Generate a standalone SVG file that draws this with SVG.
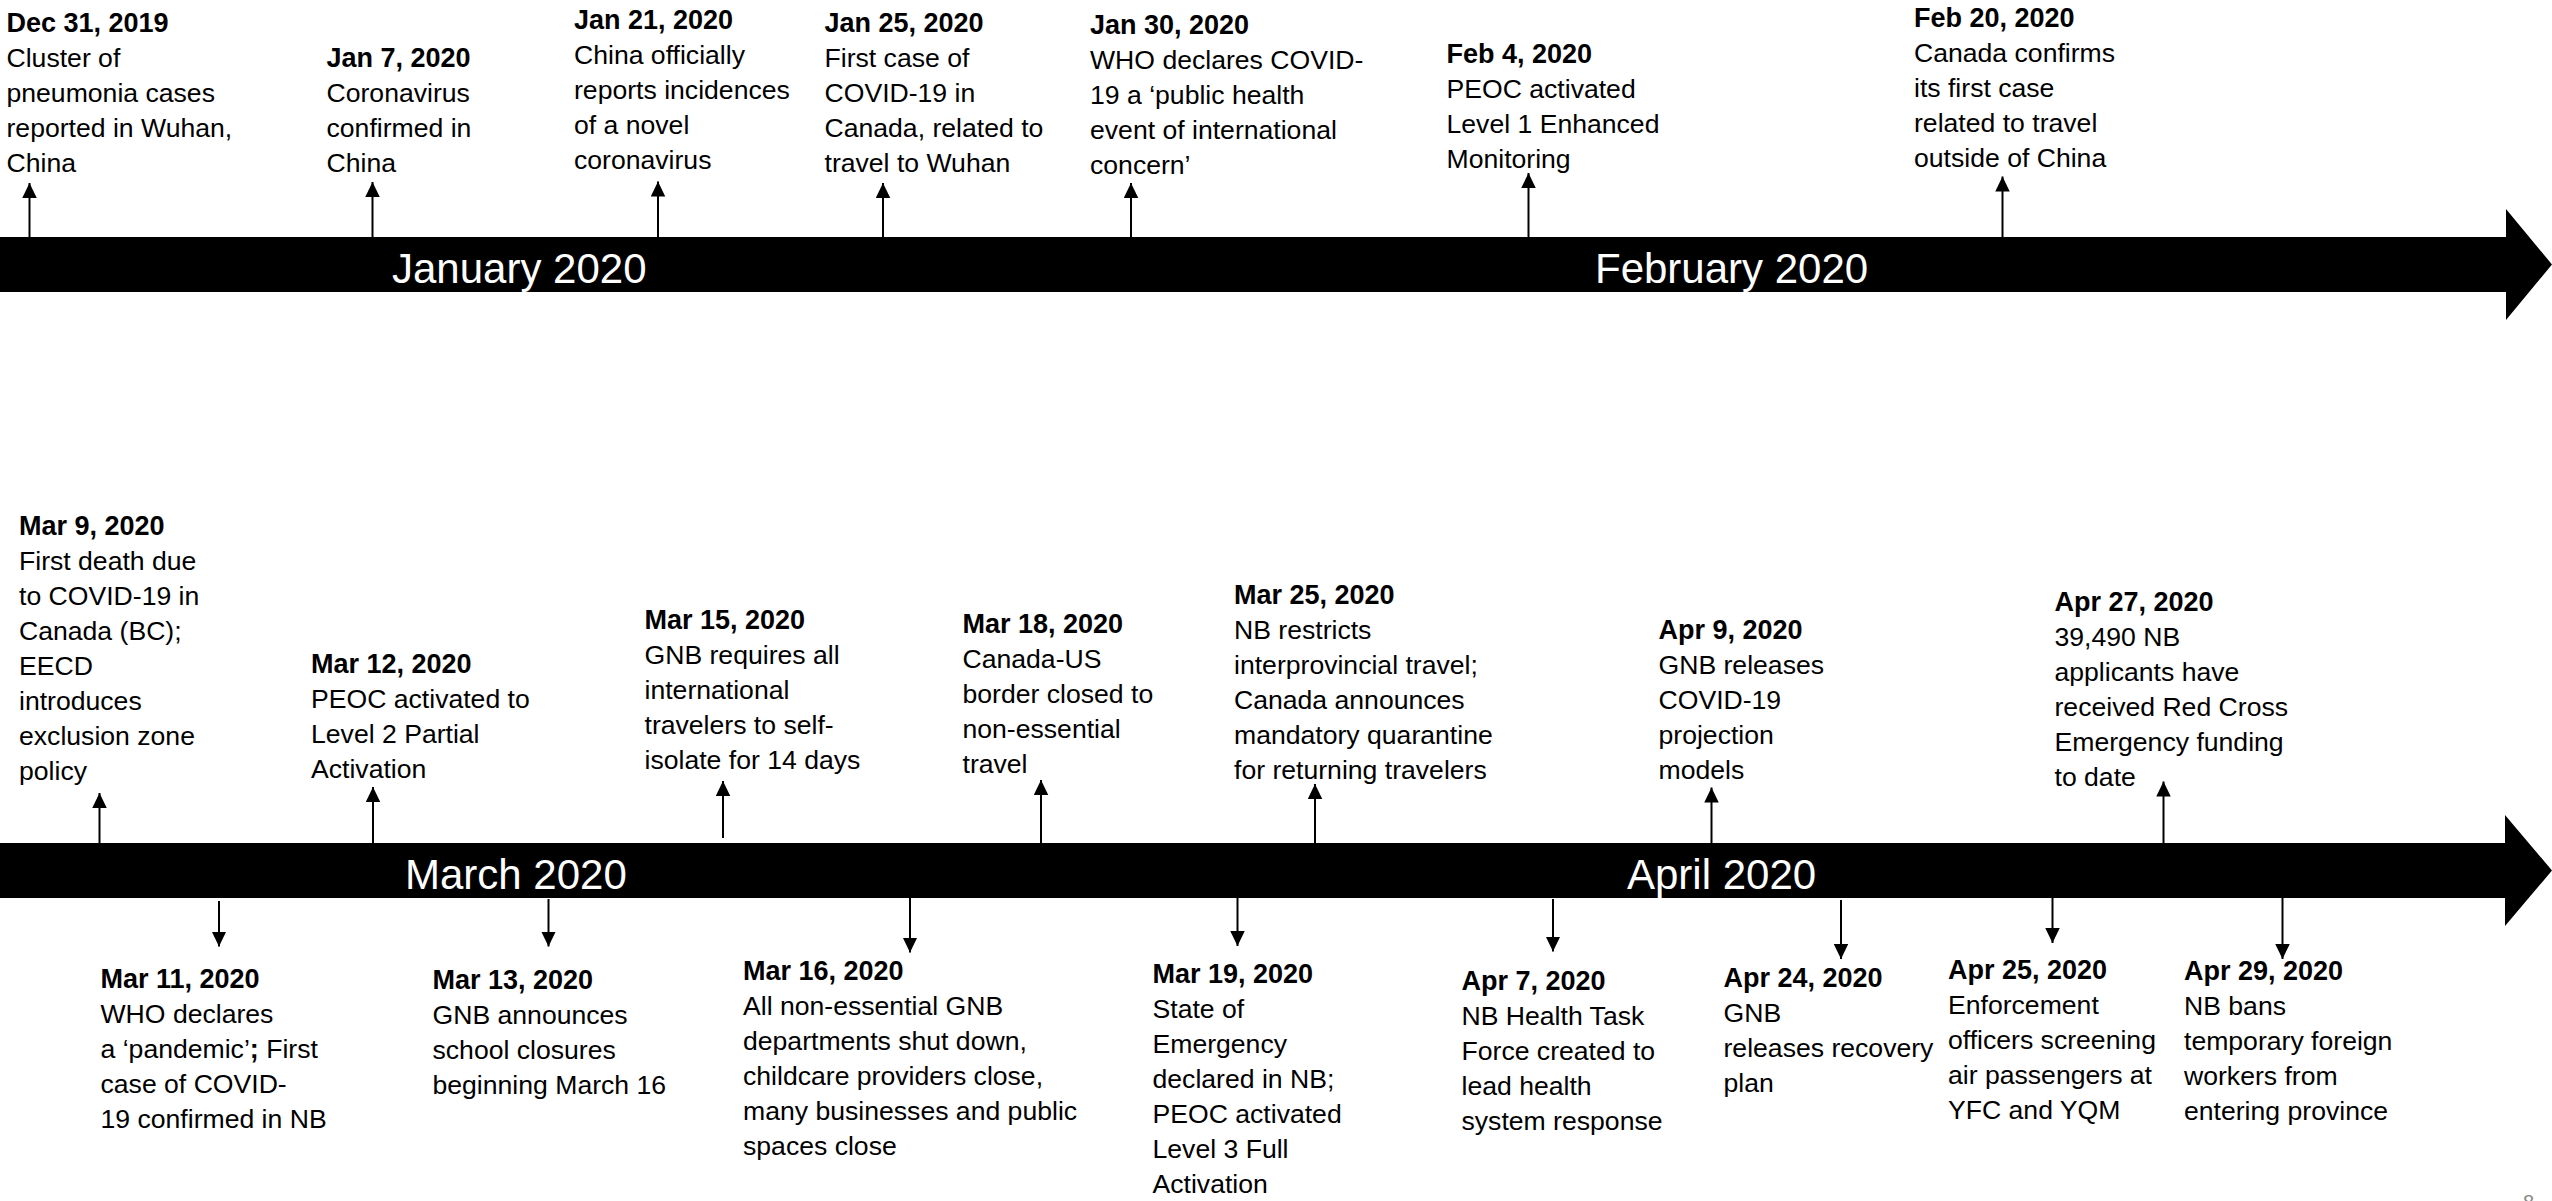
<svg xmlns="http://www.w3.org/2000/svg" width="2552" height="1201" viewBox="0 0 2552 1201">
<style>
.t{font-family:"Liberation Sans",Arial,sans-serif;font-size:26.6px;fill:#000}
.b{font-weight:bold;font-size:27px}
.m{font-family:"Liberation Sans",Arial,sans-serif;font-size:42px;fill:#fff}
.c{stroke:#000;stroke-width:2;fill:none;marker-end:url(#ah)}
</style>
<defs>
<marker id="ah" markerUnits="userSpaceOnUse" markerWidth="16" markerHeight="15" refX="15" refY="7.25" orient="auto">
<path d="M0,0 L15,7.25 L0,14.5 Z" fill="#000"/>
</marker>
</defs>
<rect width="2552" height="1201" fill="#fff"/>
<g id="timeline-top">
<path d="M0,237 L2506,237 L2506,209 L2552,264.5 L2506,320 L2506,292 L0,292 Z" fill="#000"/>
<text class="m" x="392" y="283">January 2020</text>
<text class="m" x="1595" y="283">February 2020</text>
</g>
<g id="timeline-bottom">
<path d="M0,843 L2505,843 L2505,815 L2552,870.5 L2505,926 L2505,898 L0,898 Z" fill="#000"/>
<text class="m" x="405" y="889">March 2020</text>
<text class="m" x="1627" y="889">April 2020</text>
</g>
<g id="connectors">
<line class="c" x1="29.5" y1="237" x2="29.5" y2="183"/>
<line class="c" x1="372.5" y1="237" x2="372.5" y2="182"/>
<line class="c" x1="658" y1="237" x2="658" y2="181.5"/>
<line class="c" x1="883" y1="237" x2="883" y2="183"/>
<line class="c" x1="1131" y1="237" x2="1131" y2="183"/>
<line class="c" x1="1528.5" y1="237" x2="1528.5" y2="173"/>
<line class="c" x1="2002.5" y1="237" x2="2002.5" y2="176.5"/>
<line class="c" x1="99.5" y1="843" x2="99.5" y2="793"/>
<line class="c" x1="373" y1="843" x2="373" y2="787"/>
<line class="c" x1="723" y1="838" x2="723" y2="781"/>
<line class="c" x1="1041" y1="843" x2="1041" y2="780"/>
<line class="c" x1="1315" y1="843" x2="1315" y2="784"/>
<line class="c" x1="1711.5" y1="843" x2="1711.5" y2="787.5"/>
<line class="c" x1="2163.5" y1="843" x2="2163.5" y2="781.5"/>
<line class="c" x1="219" y1="901" x2="219" y2="946.5"/>
<line class="c" x1="548.5" y1="899" x2="548.5" y2="946.5"/>
<line class="c" x1="910" y1="898" x2="910" y2="952.5"/>
<line class="c" x1="1237.5" y1="898" x2="1237.5" y2="946"/>
<line class="c" x1="1553" y1="899" x2="1553" y2="951.5"/>
<line class="c" x1="1841" y1="900" x2="1841" y2="959"/>
<line class="c" x1="2052.5" y1="898" x2="2052.5" y2="943"/>
<line class="c" x1="2282.5" y1="898" x2="2282.5" y2="959"/>
</g>
<g id="dec31"><text class="t" x="6.5" y="32"><tspan class="b" x="6.5">Dec 31, 2019</tspan><tspan x="6.5" dy="35">Cluster of</tspan><tspan x="6.5" dy="35">pneumonia cases</tspan><tspan x="6.5" dy="35">reported in Wuhan,</tspan><tspan x="6.5" dy="35">China</tspan></text></g>
<g id="jan7"><text class="t" x="326.5" y="66.7"><tspan class="b" x="326.5">Jan 7, 2020</tspan><tspan x="326.5" dy="35">Coronavirus</tspan><tspan x="326.5" dy="35">confirmed in</tspan><tspan x="326.5" dy="35">China</tspan></text></g>
<g id="jan21"><text class="t" x="574" y="29.3"><tspan class="b" x="574">Jan 21, 2020</tspan><tspan x="574" dy="35">China officially</tspan><tspan x="574" dy="35">reports incidences</tspan><tspan x="574" dy="35">of a novel</tspan><tspan x="574" dy="35">coronavirus</tspan></text></g>
<g id="jan25"><text class="t" x="824.5" y="32.3"><tspan class="b" x="824.5">Jan 25, 2020</tspan><tspan x="824.5" dy="35">First case of</tspan><tspan x="824.5" dy="35">COVID-19 in</tspan><tspan x="824.5" dy="35">Canada, related to</tspan><tspan x="824.5" dy="35">travel to Wuhan</tspan></text></g>
<g id="jan30"><text class="t" x="1090" y="34.3"><tspan class="b" x="1090">Jan 30, 2020</tspan><tspan x="1090" dy="35">WHO declares COVID-</tspan><tspan x="1090" dy="35">19 a ‘public health</tspan><tspan x="1090" dy="35">event of international</tspan><tspan x="1090" dy="35">concern’</tspan></text></g>
<g id="feb4"><text class="t" x="1446.5" y="62.7"><tspan class="b" x="1446.5">Feb 4, 2020</tspan><tspan x="1446.5" dy="35">PEOC activated</tspan><tspan x="1446.5" dy="35">Level 1 Enhanced</tspan><tspan x="1446.5" dy="35">Monitoring</tspan></text></g>
<g id="feb20"><text class="t" x="1914" y="27.3"><tspan class="b" x="1914">Feb 20, 2020</tspan><tspan x="1914" dy="35">Canada confirms</tspan><tspan x="1914" dy="35">its first case</tspan><tspan x="1914" dy="35">related to travel</tspan><tspan x="1914" dy="35">outside of China</tspan></text></g>
<g id="mar9"><text class="t" x="19" y="535"><tspan class="b" x="19">Mar 9, 2020</tspan><tspan x="19" dy="35">First death due</tspan><tspan x="19" dy="35">to COVID-19 in</tspan><tspan x="19" dy="35">Canada (BC);</tspan><tspan x="19" dy="35">EECD</tspan><tspan x="19" dy="35">introduces</tspan><tspan x="19" dy="35">exclusion zone</tspan><tspan x="19" dy="35">policy</tspan></text></g>
<g id="mar12"><text class="t" x="311" y="673.3"><tspan class="b" x="311">Mar 12, 2020</tspan><tspan x="311" dy="35">PEOC activated to</tspan><tspan x="311" dy="35">Level 2 Partial</tspan><tspan x="311" dy="35">Activation</tspan></text></g>
<g id="mar15"><text class="t" x="644.5" y="629.3"><tspan class="b" x="644.5">Mar 15, 2020</tspan><tspan x="644.5" dy="35">GNB requires all</tspan><tspan x="644.5" dy="35">international</tspan><tspan x="644.5" dy="35">travelers to self-</tspan><tspan x="644.5" dy="35">isolate for 14 days</tspan></text></g>
<g id="mar18"><text class="t" x="962.5" y="633.3"><tspan class="b" x="962.5">Mar 18, 2020</tspan><tspan x="962.5" dy="35">Canada-US</tspan><tspan x="962.5" dy="35">border closed to</tspan><tspan x="962.5" dy="35">non-essential</tspan><tspan x="962.5" dy="35">travel</tspan></text></g>
<g id="mar25"><text class="t" x="1234" y="604.3"><tspan class="b" x="1234">Mar 25, 2020</tspan><tspan x="1234" dy="35">NB restricts</tspan><tspan x="1234" dy="35">interprovincial travel;</tspan><tspan x="1234" dy="35">Canada announces</tspan><tspan x="1234" dy="35">mandatory quarantine</tspan><tspan x="1234" dy="35">for returning travelers</tspan></text></g>
<g id="apr9"><text class="t" x="1658.5" y="639"><tspan class="b" x="1658.5">Apr 9, 2020</tspan><tspan x="1658.5" dy="35">GNB releases</tspan><tspan x="1658.5" dy="35">COVID-19</tspan><tspan x="1658.5" dy="35">projection</tspan><tspan x="1658.5" dy="35">models</tspan></text></g>
<g id="apr27"><text class="t" x="2054.5" y="611"><tspan class="b" x="2054.5">Apr 27, 2020</tspan><tspan x="2054.5" dy="35">39,490 NB</tspan><tspan x="2054.5" dy="35">applicants have</tspan><tspan x="2054.5" dy="35">received Red Cross</tspan><tspan x="2054.5" dy="35">Emergency funding</tspan><tspan x="2054.5" dy="35">to date</tspan></text></g>
<g id="mar11"><text class="t" x="100.5" y="988.3"><tspan class="b" x="100.5">Mar 11, 2020</tspan><tspan x="100.5" dy="35">WHO declares</tspan><tspan x="100.5" dy="35">a ‘pandemic’<tspan class="b">;</tspan> First</tspan><tspan x="100.5" dy="35">case of COVID-</tspan><tspan x="100.5" dy="35">19 confirmed in NB</tspan></text></g>
<g id="mar13"><text class="t" x="432.5" y="989.3"><tspan class="b" x="432.5">Mar 13, 2020</tspan><tspan x="432.5" dy="35">GNB announces</tspan><tspan x="432.5" dy="35">school closures</tspan><tspan x="432.5" dy="35">beginning March 16</tspan></text></g>
<g id="mar16"><text class="t" x="743" y="980"><tspan class="b" x="743">Mar 16, 2020</tspan><tspan x="743" dy="35">All non-essential GNB</tspan><tspan x="743" dy="35">departments shut down,</tspan><tspan x="743" dy="35">childcare providers close,</tspan><tspan x="743" dy="35">many businesses and public</tspan><tspan x="743" dy="35">spaces close</tspan></text></g>
<g id="mar19"><text class="t" x="1152.5" y="983.3"><tspan class="b" x="1152.5">Mar 19, 2020</tspan><tspan x="1152.5" dy="35">State of</tspan><tspan x="1152.5" dy="35">Emergency</tspan><tspan x="1152.5" dy="35">declared in NB;</tspan><tspan x="1152.5" dy="35">PEOC activated</tspan><tspan x="1152.5" dy="35">Level 3 Full</tspan><tspan x="1152.5" dy="35">Activation</tspan></text></g>
<g id="apr7"><text class="t" x="1461.5" y="990"><tspan class="b" x="1461.5">Apr 7, 2020</tspan><tspan x="1461.5" dy="35">NB Health Task</tspan><tspan x="1461.5" dy="35">Force created to</tspan><tspan x="1461.5" dy="35">lead health</tspan><tspan x="1461.5" dy="35">system response</tspan></text></g>
<g id="apr24"><text class="t" x="1723.5" y="986.7"><tspan class="b" x="1723.5">Apr 24, 2020</tspan><tspan x="1723.5" dy="35">GNB</tspan><tspan x="1723.5" dy="35">releases recovery</tspan><tspan x="1723.5" dy="35">plan</tspan></text></g>
<g id="apr25"><text class="t" x="1948" y="979"><tspan class="b" x="1948">Apr 25, 2020</tspan><tspan x="1948" dy="35">Enforcement</tspan><tspan x="1948" dy="35">officers screening</tspan><tspan x="1948" dy="35">air passengers at</tspan><tspan x="1948" dy="35">YFC and YQM</tspan></text></g>
<g id="apr29"><text class="t" x="2184" y="980"><tspan class="b" x="2184">Apr 29, 2020</tspan><tspan x="2184" dy="35">NB bans</tspan><tspan x="2184" dy="35">temporary foreign</tspan><tspan x="2184" dy="35">workers from</tspan><tspan x="2184" dy="35">entering province</tspan></text></g>
<text x="2523" y="1209" font-family="Liberation Sans, Arial, sans-serif" font-size="20" fill="#888">8</text>
</svg>
